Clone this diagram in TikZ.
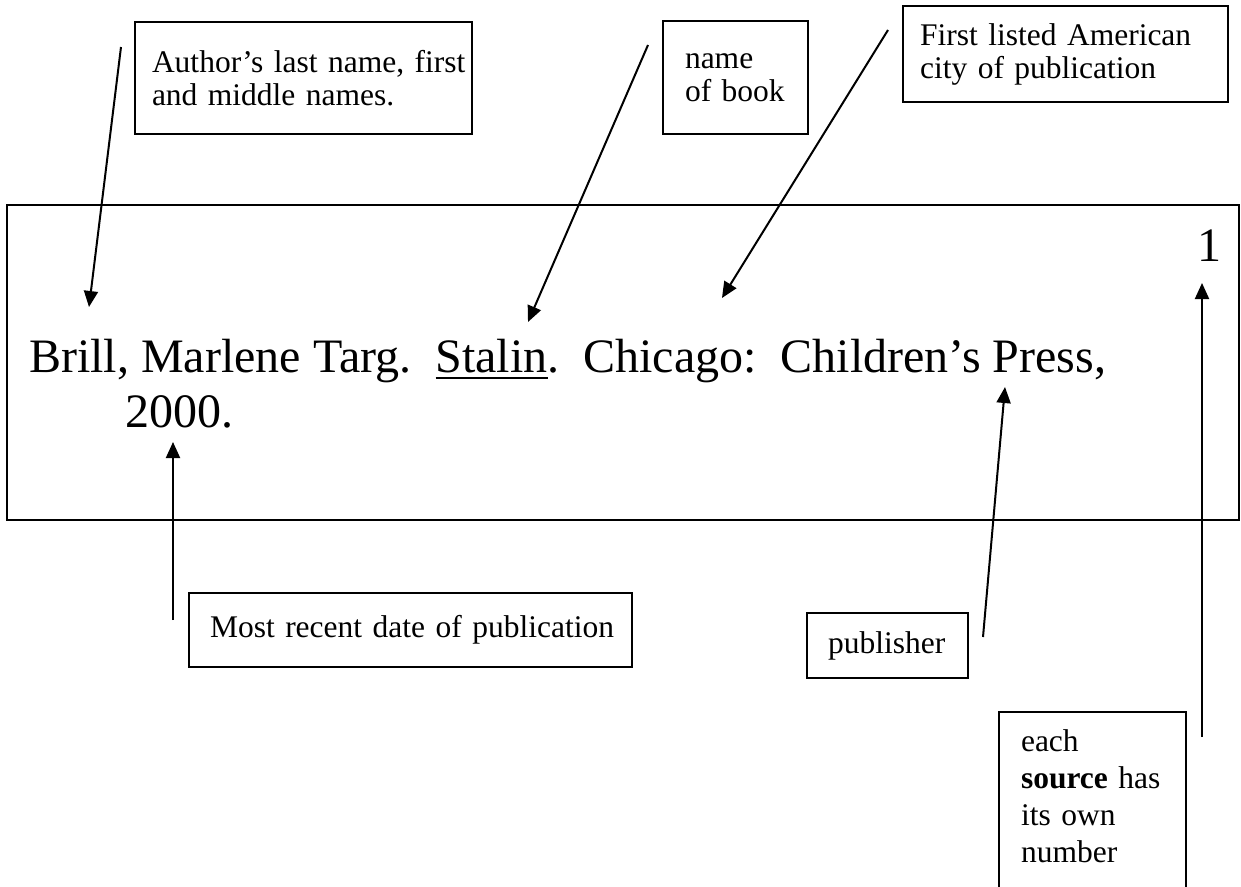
\documentclass[tikz,border=0pt]{standalone}
\usepackage{fontspec}
\setmainfont{Liberation Serif}
\usetikzlibrary{arrows.meta}
\frenchspacing
\newcommand\myul[1]{\setbox0\hbox{#1}\rlap{\rule[-7pt]{\wd0}{1.6pt}}\box0}
\begin{document}
\begin{tikzpicture}[x=1pt,y=-1pt,
  lbl/.style={draw, line width=1.8pt, outer sep=0pt, anchor=north west, align=left,
    font=\fontsize{31.5}{33}\selectfont},
  arr/.style={line width=2pt, -{Triangle[length=16pt,width=14pt]}},
  big/.style={font=\fontsize{48}{55}\selectfont, inner sep=0pt, anchor=base west}]
\useasboundingbox (0,0) rectangle (1241,886);
% main entry frame
\node[draw, line width=1.4pt, outer sep=0pt, inner sep=0pt, anchor=north west,
      minimum width=1232pt, minimum height=315pt] (entry) at (7,205) {};
% entry text
\node[big] (line1) at (29,372) {Brill, Marlene Targ.\ \ \myul{Stalin}.\ \ Chicago:\ \ Children's Press,};
\node[big] (line2) at (125,427) {2000.};
\node[big] (num) at (1197,261) {1};
% label boxes
\node[lbl, inner xsep=17pt, text width=303pt, minimum height=112pt] (author) at (135,22)
  {\mbox{Author's last name, first}\\\mbox{and middle names.}};
\node[lbl, inner xsep=22pt, text width=101pt, minimum height=113pt] (book) at (663,21)
  {\mbox{name}\\\mbox{of book}};
\node[lbl, inner xsep=17pt, text width=291pt, minimum height=96pt] (city) at (903,6)
  {\mbox{First listed American}\\\mbox{city of publication}};
\node[lbl, inner xsep=21pt, text width=401pt, minimum height=74pt] (date) at (189,593)
  {\mbox{Most recent date of publication}};
\node[lbl, inner xsep=21pt, text width=119pt, minimum height=65pt] (pub) at (807,613)
  {\mbox{publisher}};
\node[lbl, inner xsep=22pt, inner ysep=18pt, text width=143pt, text depth=150pt,
      font=\fontsize{31.5}{37}\selectfont] (source) at (999,712)
  {\mbox{each}\\\mbox{\textbf{source} has}\\\mbox{its own}\\\mbox{number}};
% arrow ends
\coordinate (authT) at (121,47);  \coordinate (authH) at (89,307);
\coordinate (bookT) at (648,45);  \coordinate (bookH) at (528,322);
\coordinate (cityT) at (888,30);  \coordinate (cityH) at (722,298);
\coordinate (dateT) at (173,620); \coordinate (dateH) at (173,442);
\coordinate (pubT) at (983,637);  \coordinate (pubH) at (1005,387);
\coordinate (srcT) at (1202,737); \coordinate (srcH) at (1202,283);
\draw[arr] (authT) -- (authH);
\draw[arr] (bookT) -- (bookH);
\draw[arr] (cityT) -- (cityH);
\draw[arr] (dateT) -- (dateH);
\draw[arr] (pubT) -- (pubH);
\draw[arr] (srcT) -- (srcH);
\end{tikzpicture}
\end{document}
